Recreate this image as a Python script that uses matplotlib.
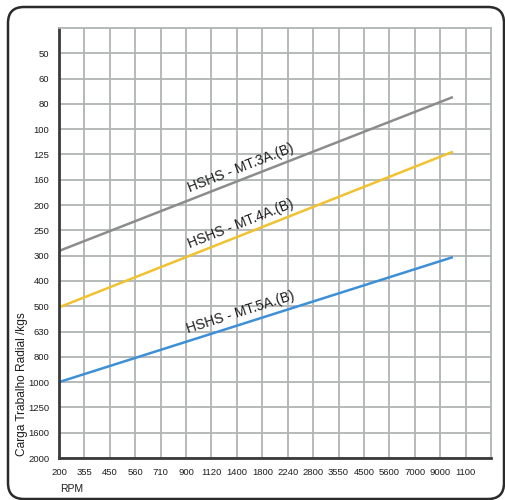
import numpy as np
import matplotlib
matplotlib.use('Agg')
import matplotlib.pyplot as plt
from matplotlib.patches import FancyBboxPatch
from matplotlib.transforms import IdentityTransform

# Axis ticks as printed on the chart.
rpm_ticks = [200, 355, 450, 560, 710, 900, 1120, 1400, 1800, 2240,
             2800, 3550, 4500, 5600, 7100, 9000, 11100]
rpm_labels = ['200', '355', '450', '560', '710', '900', '1120', '1400', '1800',
              '2240', '2800', '3550', '4500', '5600', '7000', '9000', '1100']
load_ticks = [50, 60, 80, 100, 125, 160, 200, 250, 300, 400, 500, 630,
              800, 1000, 1250, 1600, 2000]
load_labels = [str(v) for v in load_ticks]

# Series: load (kgs) at the start and end rpm.
rpm_range = [200, 10000]
series_names = ['HSHS - MT.3A.(B)', 'HSHS - MT.4A.(B)', 'HSHS - MT.5A.(B)']
series_loads = [[290, 74], [505, 122], [1000, 305]]
series_colors = ['#8c8c8c', '#f0c232', '#3d8fd6']

plt.rcParams['font.family'] = ['Liberation Sans', 'DejaVu Sans']


def tick_scale(ticks):
    '''Scale putting every tick at an equal step (log interpolation,
    linear extrapolation outside the ticks).'''
    lt = np.log(np.asarray(ticks, float))
    idx = np.arange(len(lt), dtype=float)

    def forward(v):
        lv = np.log(np.maximum(np.asarray(v, float), 1e-9))
        out = np.interp(lv, lt, idx)
        lo = lv < lt[0]
        hi = lv > lt[-1]
        out = np.where(lo, (lv - lt[0]) / (lt[1] - lt[0]), out)
        out = np.where(hi, idx[-1] + (lv - lt[-1]) / (lt[-1] - lt[-2]), out)
        return out

    def inverse(p):
        p = np.asarray(p, float)
        lv = np.interp(p, idx, lt)
        lv = np.where(p < 0, lt[0] + p * (lt[1] - lt[0]), lv)
        lv = np.where(p > idx[-1], lt[-1] + (p - idx[-1]) * (lt[-1] - lt[-2]), lv)
        return np.exp(lv)

    return forward, inverse


fx, ix = tick_scale(rpm_ticks)
fy, iy = tick_scale(load_ticks)

fig = plt.figure(figsize=(5.06, 5.0), dpi=100)
ax = fig.add_axes([59 / 506, 42 / 500, 432 / 506, 430 / 500])
ax.set_xscale('function', functions=(fx, ix))
ax.set_yscale('function', functions=(fy, iy))
ax.set_xlim(rpm_ticks[0], float(ix(len(rpm_ticks))))
ax.set_ylim(load_ticks[-1], float(iy(-1)))

grid_color = '#b0b4b4'
ax.set_xticks(rpm_ticks)
ax.set_xticklabels(rpm_labels)
ax.set_yticks(load_ticks)
ax.set_yticklabels(load_labels)
ax.minorticks_off()
ax.tick_params(length=0, labelsize=6.8, colors='#1e1e1e')
ax.tick_params(axis='x', pad=7)
ax.tick_params(axis='y', pad=7)
ax.grid(True, color=grid_color, lw=1.3)
ax.set_axisbelow(True)
for side in ['left', 'bottom']:
    ax.spines[side].set_color('#3a3a3a')
    ax.spines[side].set_linewidth(2)
for side in ['top', 'right']:
    ax.spines[side].set_color(grid_color)
    ax.spines[side].set_linewidth(1.3)

# Lines and their labels.
label_rpm = 1450
for name, loads, color in zip(series_names, series_loads, series_colors):
    ax.plot(rpm_range, loads, color=color, lw=1.8, solid_capstyle='butt')
    p0, p1 = ax.transData.transform([[rpm_range[0], loads[0]],
                                     [rpm_range[1], loads[1]]])
    angle = np.degrees(np.arctan2(p1[1] - p0[1], p1[0] - p0[0]))
    t = (fx(label_rpm) - fx(rpm_range[0])) / (fx(rpm_range[1]) - fx(rpm_range[0]))
    yl = iy(fy(loads[0]) + t * (fy(loads[1]) - fy(loads[0])))
    ax.annotate(name, xy=(label_rpm, float(yl)), xytext=(0, 8.5),
                textcoords='offset points', rotation=angle,
                rotation_mode='anchor', ha='center', va='center',
                fontsize=10, color='#1e1e1e')

fig.text(22 / 506, 116 / 500, 'Carga Trabalho Radial /kgs', rotation=90,
         ha='center', va='center', fontsize=8.6, color='#1e1e1e')
fig.text(60 / 506, 11 / 500, 'RPM', ha='left', va='center',
         fontsize=7.5, color='#1e1e1e')

# Rounded frame round the whole chart.
frame = FancyBboxPatch((8, 1), 496, 492,
                       boxstyle='round,pad=0,rounding_size=16',
                       transform=IdentityTransform(), fill=False,
                       edgecolor='#2b2b2b', lw=1.8)
fig.add_artist(frame)

fig.savefig('out.png', dpi=100)
